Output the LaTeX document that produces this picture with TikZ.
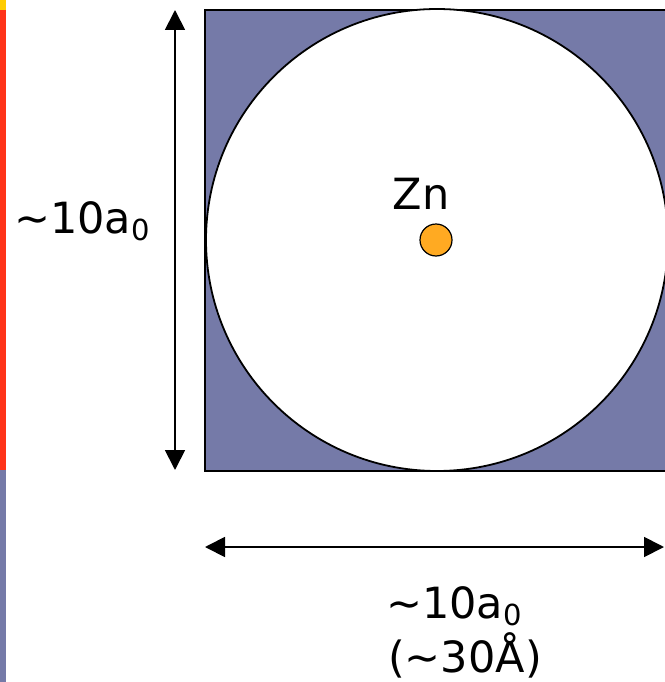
\documentclass[tikz,border=0pt]{standalone}
\usepackage{fontspec}
\setmainfont{DejaVu Sans}
\usetikzlibrary{arrows.meta}

\definecolor{cellblue}{RGB}{117,122,168}
\definecolor{znorange}{RGB}{255,170,34}
\definecolor{barred}{RGB}{255,51,25}
\definecolor{baryellow}{RGB}{255,204,0}
\newcommand{\subnum}[1]{\raisebox{-7pt}{\fontsize{29}{30}\selectfont #1}}

\begin{document}
\begin{tikzpicture}[x=1pt, y=-1pt,
    every node/.style={font=\fontsize{43}{48}\selectfont, inner sep=0pt},
    dimarrow/.style={line width=1.8pt, {Triangle[width=20pt,length=20pt]}-{Triangle[width=20pt,length=20pt]}}]
\useasboundingbox (0,0) rectangle (664,682);

% side bar at the left edge
\fill[baryellow] (0,0) rectangle (6,10);
\fill[barred] (0,10) rectangle (6,470);
\fill[cellblue] (0,470) rectangle (6,682);

% cell with the sphere in it
\filldraw[cellblue, draw=black, line width=1.8pt] (205,10) rectangle (669,471);
\node[circle, draw, fill=white, line width=1.8pt, minimum size=462pt] (sphere) at (437,240) {};

% Zn atom
\node[circle, draw, fill=znorange, line width=1.2pt, minimum size=32pt] (ball) at (436,240) {};
\node[anchor=base] (zn) at (421,209) {Zn};

% dimension arrows
\coordinate (top) at (175,10);
\coordinate (bottom) at (175,470);
\draw[dimarrow] (top) -- (bottom);
\node[anchor=base] (vlabel) at (82,233) {∼10a\subnum{0}};

\coordinate (left) at (205,547);
\coordinate (right) at (664,547);
\draw[dimarrow] (left) -- (right);
\node[anchor=base] (hlabel) at (454,618) {∼10a\subnum{0}};
\node[anchor=base] (alabel) at (465,672) {(∼30Å)};

\end{tikzpicture}
\end{document}
